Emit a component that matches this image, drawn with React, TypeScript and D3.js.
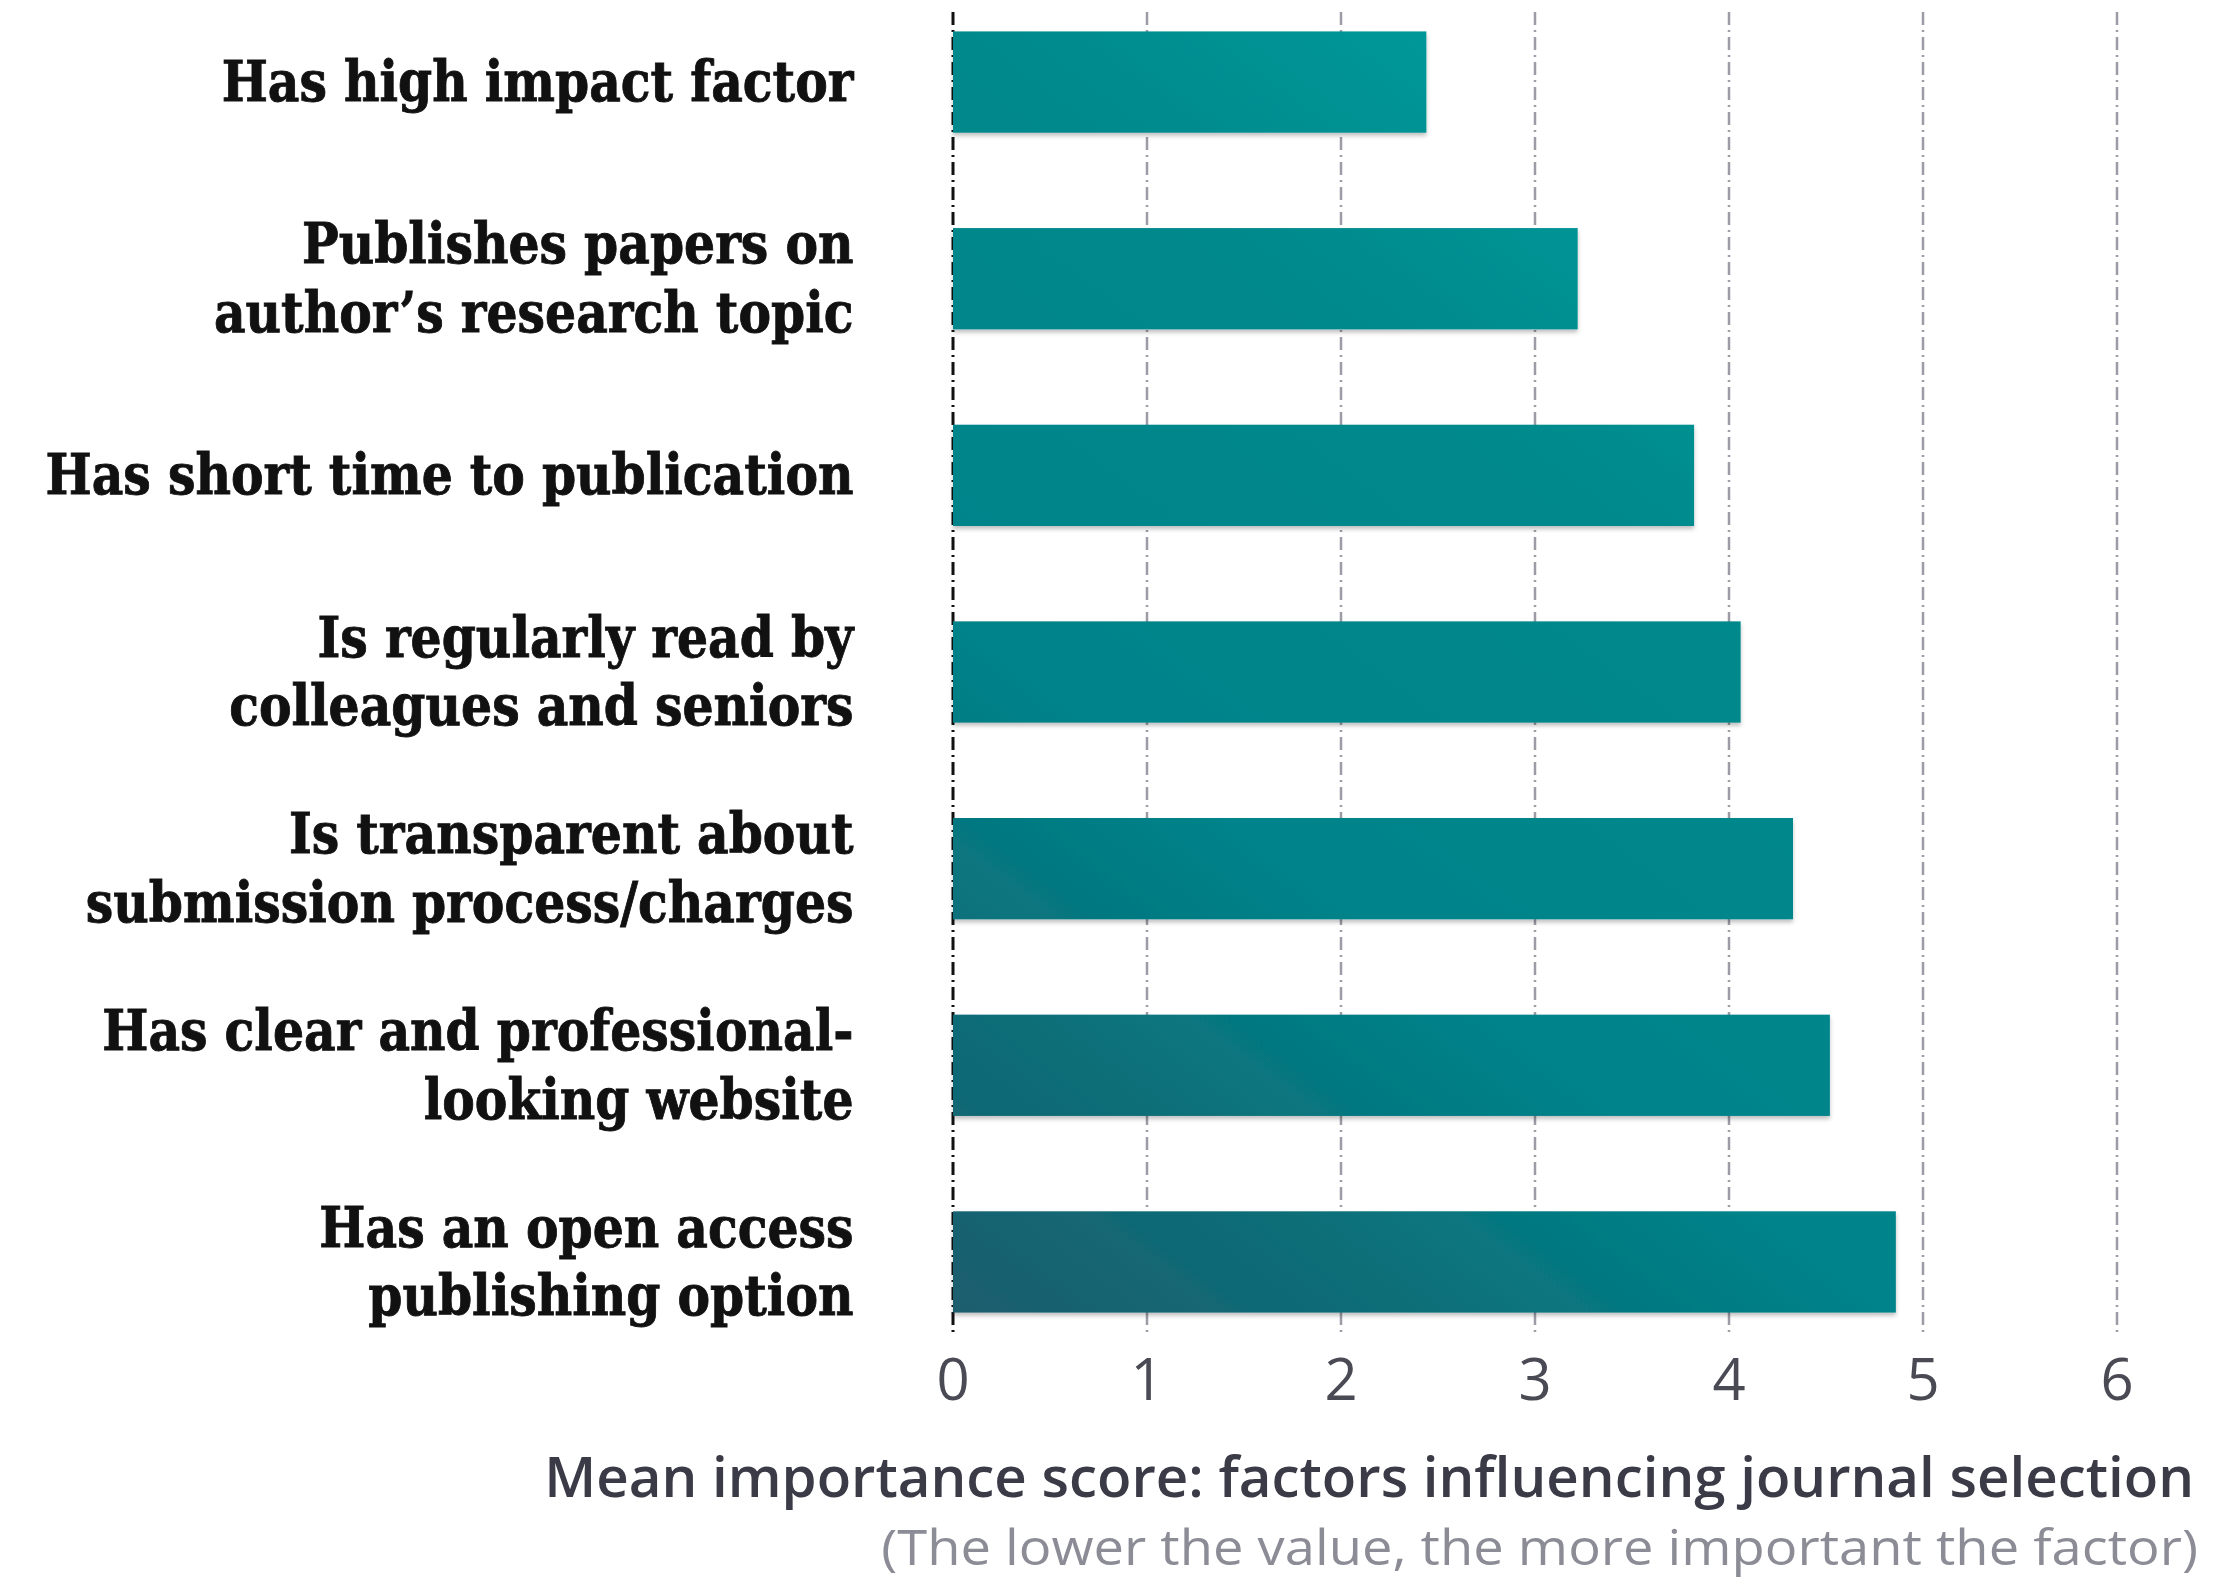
import React, { useEffect, useRef } from 'react';
import * as d3 from 'd3';

// survey factors, top to bottom as drawn
const categories = [
  'Has high impact factor',
  'Publishes papers on\nauthor\u2019s research topic',
  'Has short time to publication',
  'Is regularly read by\ncolleagues and seniors',
  'Is transparent about\nsubmission process/charges',
  'Has clear and professional-\nlooking website',
  'Has an open access\npublishing option',
];
const values = [2.44, 3.22, 3.82, 4.06, 4.33, 4.52, 4.86];
const xTicks = [0, 1, 2, 3, 4, 5, 6];
const axisTitle = 'Mean importance score: factors influencing journal selection';
const axisNote = '(The lower the value, the more important the factor)';

const App = () => {
  const ref = useRef<SVGSVGElement>(null);

  useEffect(() => {
    document.body.style.margin = '0';
    const width = 2238;
    const height = 1582;

    const svg = d3.select(ref.current).attr('width', width).attr('height', height);
    svg.selectAll('*').remove();

    const x = d3.scaleLinear().domain([0, 6]).range([953, 2117]);
    const y = d3.scaleBand<string>()
      .domain(categories)
      .range([14, 1330])
      .paddingInner(0.485)
      .paddingOuter(0.0886);

    const defs = svg.append('defs');
    const grad = defs.append('linearGradient')
      .attr('id', 'barGrad')
      .attr('gradientUnits', 'userSpaceOnUse')
      .attr('x1', x(0)).attr('y1', 1310)
      .attr('x2', 1900).attr('y2', 31);
    [[0, '#1c5d6d'], [0.17, '#0b6e78'], [0.35, '#00838a'], [0.65, '#00898c'], [0.82, '#009798'], [1, '#00a0a0']]
      .forEach(([o, c]) => grad.append('stop').attr('offset', o as number).attr('stop-color', c as string));

    const shadow = defs.append('filter').attr('id', 'barShadow')
      .attr('x', '-5%').attr('y', '-20%').attr('width', '110%').attr('height', '150%');
    shadow.append('feDropShadow')
      .attr('dx', 0).attr('dy', 3).attr('stdDeviation', 2)
      .attr('flood-color', '#000').attr('flood-opacity', 0.25);

    // gridlines (dash-dot)
    const dash = '13,5,2,5';
    svg.append('g')
      .selectAll('line')
      .data(xTicks.filter(t => t > 0))
      .enter()
      .append('line')
      .attr('x1', d => x(d)).attr('x2', d => x(d))
      .attr('y1', 12).attr('y2', 1332)
      .attr('stroke', '#9c9ca6')
      .attr('stroke-width', 2.5)
      .attr('stroke-dasharray', dash);

    svg.append('line')
      .attr('x1', x(0)).attr('x2', x(0))
      .attr('y1', 12).attr('y2', 1332)
      .attr('stroke', '#111')
      .attr('stroke-width', 3)
      .attr('stroke-dasharray', dash);

    // bars
    svg.append('g')
      .selectAll('rect')
      .data(categories)
      .enter()
      .append('rect')
      .attr('x', x(0))
      .attr('y', d => y(d) as number)
      .attr('width', (d, i) => x(values[i]) - x(0))
      .attr('height', y.bandwidth())
      .attr('fill', 'url(#barGrad)')
      .attr('filter', 'url(#barShadow)');

    // category labels
    const labelSize = 56;
    const lineGap = 68.5;
    const labels = svg.append('g')
      .attr('font-family', '"DejaVu Serif", serif')
      .attr('font-weight', 'bold')
      .attr('font-size', labelSize)
      .attr('fill', '#111')
      .attr('stroke', '#111')
      .attr('stroke-width', 0.9)
      .attr('text-anchor', 'end');

    categories.forEach(c => {
      const lines = c.split('\n');
      const mid = (y(c) as number) + y.bandwidth() / 2;
      const t = labels.append('text');
      lines.forEach((ln, i) => {
        t.append('tspan')
          .attr('x', 0)
          .attr('y', mid + (i - (lines.length - 1) / 2) * lineGap + labelSize * 0.34)
          .text(ln);
      });
    });

    // fit label width to the reference
    const probe = labels.append('text').text('Has short time to publication');
    const probeW = (probe.node() as SVGTextElement).getComputedTextLength();
    probe.remove();
    const sx = 808 / probeW;
    labels.attr('transform', `translate(853.5,0) scale(${sx},1)`);

    // tick labels
    svg.append('g')
      .selectAll('text')
      .data(xTicks)
      .enter()
      .append('text')
      .attr('x', d => x(d))
      .attr('y', 1400)
      .attr('text-anchor', 'middle')
      .attr('font-family', '"Open Sans", sans-serif')
      .attr('font-size', 58)
      .attr('fill', '#4a4a55')
      .text(d => d);

    // axis title and note, right aligned
    const addFitted = (txt: string, right: number, base: number, w: number, size: number, weight: number, color: string) => {
      const g = svg.append('g');
      const t = g.append('text')
        .attr('x', 0).attr('y', 0)
        .attr('text-anchor', 'end')
        .attr('font-family', '"Open Sans", sans-serif')
        .attr('font-size', size)
        .attr('font-weight', weight)
        .attr('fill', color)
        .text(txt);
      const tw = (t.node() as SVGTextElement).getComputedTextLength();
      g.attr('transform', `translate(${right},${base}) scale(${w / tw},1)`);
    };
    addFitted(axisTitle, 2194, 1497, 1650, 56, 600, '#3b3b48');
    addFitted(axisNote, 2198, 1565, 1317, 49, 400, '#8c8c96');
  }, []);

  return <svg ref={ref} style={{ display: 'block' }}></svg>;
};

export default App;
